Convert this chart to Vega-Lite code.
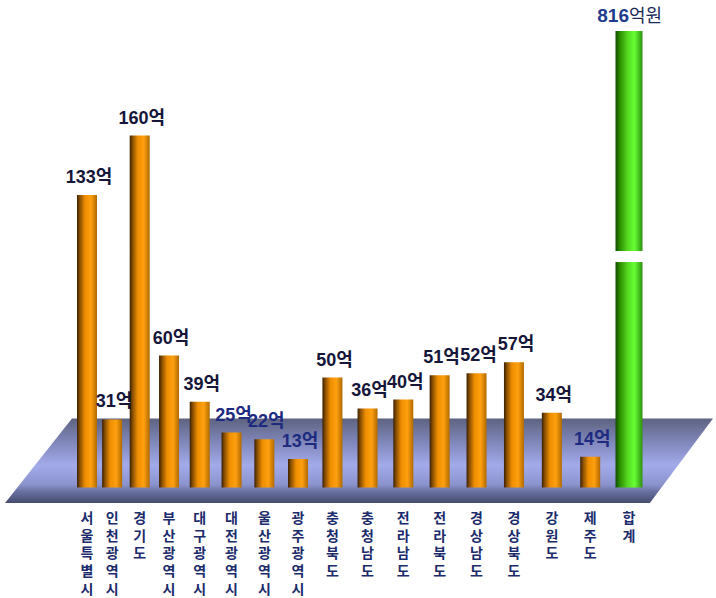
{
  "$schema": "https://vega.github.io/schema/vega-lite/v6.json",
  "width": 552,
  "height": 472,
  "autosize": {"type": "none"},
  "padding": {"left": 82, "top": 31, "right": 82, "bottom": 95},
  "background": "white",
  "config": {"view": {"stroke": null}},
  "datasets": {
    "regions": [
      {"region": "서울특별시", "value": 133},
      {"region": "인천광역시", "value": 31},
      {"region": "경기도", "value": 160},
      {"region": "부산광역시", "value": 60},
      {"region": "대구광역시", "value": 39},
      {"region": "대전광역시", "value": 25},
      {"region": "울산광역시", "value": 22},
      {"region": "광주광역시", "value": 13},
      {"region": "충청북도", "value": 50},
      {"region": "충청남도", "value": 36},
      {"region": "전라남도", "value": 40},
      {"region": "전라북도", "value": 51},
      {"region": "경상남도", "value": 52},
      {"region": "경상북도", "value": 57},
      {"region": "강원도", "value": 34},
      {"region": "제주도", "value": 14},
      {"region": "합계", "value": 816}
    ],
    "floor": [
      {"pos": -1.23, "bottom": -7, "top": -7},
      {"pos": 0.71, "bottom": -7, "top": 31.4},
      {"pos": 17.46, "bottom": -7, "top": 31.4},
      {"pos": 19.29, "bottom": 31.4, "top": 31.4}
    ]
  },
  "resolve": {"scale": {"x": "independent"}},
  "layer": [
    {
      "data": {"name": "floor"},
      "mark": {
        "type": "area",
        "interpolate": "linear",
        "color": {
          "gradient": "linear", "x1": 0, "y1": 0, "x2": 0, "y2": 1,
          "stops": [
            {"offset": 0, "color": "#5e6380"},
            {"offset": 0.25, "color": "#7c83b4"},
            {"offset": 0.55, "color": "#a2aaea"},
            {"offset": 0.78, "color": "#8c94ce"},
            {"offset": 0.86, "color": "#6a72a2"},
            {"offset": 1, "color": "#464c6c"}
          ]
        }
      },
      "encoding": {
        "x": {"field": "pos", "type": "quantitative", "scale": {"domain": [1, 17], "nice": false, "zero": false}, "axis": null},
        "y": {"field": "bottom", "type": "quantitative", "scale": {"domain": [-7, 207.5], "nice": false, "zero": false, "clamp": true}, "axis": null},
        "y2": {"field": "top"}
      }
    },
    {
      "data": {"name": "regions"},
      "transform": [
        {"window": [{"op": "row_number", "as": "order"}]},
        {"calculate": "datum.value + '억'", "as": "label"},
        {"calculate": "split(datum.region, '')", "as": "chars"}
      ],
      "encoding": {
        "x": {"field": "order", "type": "quantitative", "scale": {"type": "pow", "exponent": 1.18, "domain": [1, 17], "nice": false, "zero": false}, "axis": null}
      },
      "layer": [
        {
          "transform": [{"filter": "datum.region !== '합계'"}],
          "mark": {
            "type": "bar", "orient": "vertical", "width": 20,
            "color": {
              "gradient": "linear", "x1": 0, "y1": 0, "x2": 1, "y2": 0,
              "stops": [
                {"offset": 0, "color": "#3a2000"},
                {"offset": 0.15, "color": "#8a5000"},
                {"offset": 0.4, "color": "#ee8e00"},
                {"offset": 0.7, "color": "#ffa010"},
                {"offset": 1, "color": "#b06a00"}
              ]
            }
          },
          "encoding": {
            "y": {"field": "value", "type": "quantitative", "stack": null, "axis": null}
          }
        },
        {
          "transform": [{"filter": "datum.region === '합계'"}],
          "mark": {
            "type": "bar", "orient": "vertical", "width": 27,
            "color": {
              "gradient": "linear", "x1": 0, "y1": 0, "x2": 1, "y2": 0,
              "stops": [
                {"offset": 0, "color": "#0f4a00"},
                {"offset": 0.15, "color": "#2a8a00"},
                {"offset": 0.45, "color": "#55d820"},
                {"offset": 0.7, "color": "#66ff33"},
                {"offset": 1, "color": "#2f8f10"}
              ]
            }
          },
          "encoding": {
            "y": {"field": "value", "type": "quantitative", "stack": null, "axis": null}
          }
        },
        {
          "transform": [{"filter": "datum.region === '합계'"}],
          "mark": {"type": "bar", "orient": "vertical", "width": 31, "color": "white"},
          "encoding": {
            "y": {"datum": 102.5, "type": "quantitative"},
            "y2": {"datum": 107.5}
          }
        },
        {
          "transform": [{"filter": "datum.region !== '합계'"}],
          "mark": {"type": "text", "font": "Liberation Sans, Noto Sans CJK KR", "fontSize": 18, "fontWeight": "bold", "baseline": "alphabetic", "align": "center", "dx": 2, "dy": -12},
          "encoding": {
            "y": {"field": "value", "type": "quantitative"},
            "text": {"field": "label", "type": "nominal"},
            "color": {"condition": {"test": "datum.value <= 25", "value": "#1d2a80"}, "value": "#15163a"}
          }
        },
        {
          "transform": [{"filter": "datum.region === '합계'"}],
          "mark": {"type": "text", "font": "Liberation Sans", "fontSize": 19, "fontWeight": "bold", "baseline": "alphabetic", "align": "right", "dx": 0, "dy": -9, "color": "#1f3c8c"},
          "encoding": {
            "y": {"field": "value", "type": "quantitative"},
            "text": {"field": "value", "type": "nominal"}
          }
        },
        {
          "transform": [{"filter": "datum.region === '합계'"}],
          "mark": {"type": "text", "font": "Noto Sans CJK KR", "fontSize": 18, "fontWeight": "normal", "baseline": "alphabetic", "align": "left", "dx": 0, "dy": -9, "color": "#1a2a58", "text": "억원"},
          "encoding": {
            "y": {"field": "value", "type": "quantitative"}
          }
        },
        {
          "mark": {"type": "text", "font": "Noto Sans CJK KR", "fontSize": 14, "fontWeight": "bold", "baseline": "top", "align": "center", "dy": 9, "lineHeight": 17.7, "color": "#1b2b6b"},
          "encoding": {
            "y": {"datum": -7, "type": "quantitative"},
            "text": {"field": "chars", "type": "nominal"}
          }
        }
      ]
    }
  ]
}
